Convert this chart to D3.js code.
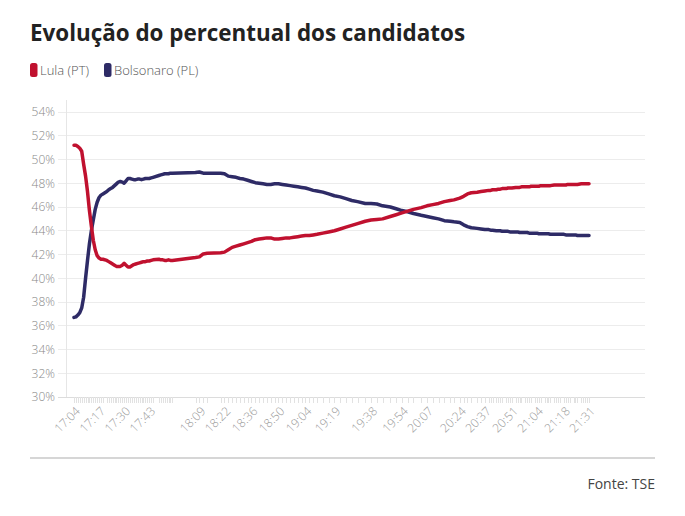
<!DOCTYPE html>
<html>
<head>
<meta charset="utf-8">
<script src="https://cdn.jsdelivr.net/npm/d3@7"></script>
<style>
  html, body { margin: 0; padding: 0; background: #fff; }
  svg { display: block; font-family: "Open Sans", "Noto Sans", sans-serif; }
</style>
</head>
<body>
<svg id="chart" width="685" height="516"></svg>
<script>
// ---- data ----
const times = [
  "17:04","17:05","17:06","17:07","17:08","17:09","17:10","17:11","17:12","17:13","17:14","17:15","17:16","17:17","17:18","17:19",
  "17:21","17:22","17:23","17:24","17:25","17:26","17:27","17:28","17:29","17:30","17:31","17:32","17:33","17:34","17:35","17:36","17:37","17:38","17:39","17:40","17:41","17:42","17:43","17:44","17:45",
  "17:48","17:49","17:50","17:51","17:52","17:53","17:54","17:55",
  "18:07","18:09","18:11","18:13",
  "18:20","18:22","18:24","18:26","18:28","18:30","18:32","18:34","18:36","18:38","18:40","18:42","18:44","18:46","18:48","18:50","18:52","18:54","18:56","18:58","19:00","19:02","19:04","19:06","19:08","19:10",
  "19:13","19:16","19:19","19:22","19:25","19:28","19:31","19:35","19:38","19:41","19:44","19:48","19:51","19:54","19:57","20:00","20:04","20:07","20:10","20:13",
  "20:16","20:19","20:21","20:24","20:26","20:28","20:30","20:33","20:35","20:37",
  "20:39","20:40","20:41","20:43","20:44","20:45","20:46","20:48","20:49","20:50","20:51","20:53","20:54","20:55","20:56","20:58","20:59","21:00","21:01","21:03","21:04","21:05","21:06","21:08","21:09","21:10","21:11","21:13","21:14","21:15","21:16","21:18","21:19","21:20","21:21","21:23","21:24","21:25","21:27","21:28","21:29","21:30","21:31"
];
const lula = [
  51.2,51.2,51.1,50.95,50.7,49.6,48.6,47.3,45.7,44.4,43.2,42.4,41.9,41.7,41.6,41.6,
  41.5,41.4,41.3,41.2,41.1,41.0,41.0,41.0,41.1,41.25,41.1,40.95,40.95,41.05,41.15,41.2,41.25,41.3,41.35,41.4,41.4,41.45,41.45,41.5,41.55,
  41.6,41.55,41.55,41.5,41.5,41.55,41.5,41.5,
  41.75,41.8,42.05,42.1,
  42.15,42.2,42.4,42.6,42.7,42.8,42.9,43.0,43.1,43.25,43.3,43.35,43.4,43.4,43.3,43.3,43.35,43.4,43.4,43.45,43.5,43.55,43.6,43.6,43.65,43.7,
  43.8,43.9,44.0,44.15,44.3,44.45,44.6,44.8,44.9,44.95,45.0,45.2,45.35,45.5,45.65,45.8,45.95,46.1,46.2,46.3,
  46.45,46.55,46.6,46.75,46.9,47.1,47.2,47.25,47.3,47.35,
  47.4,47.4,47.45,47.45,47.5,47.5,47.55,47.55,47.6,47.6,47.6,47.65,47.65,47.65,47.7,47.7,47.7,47.7,47.75,47.75,47.75,47.75,47.8,47.8,47.8,47.8,47.8,47.85,47.85,47.85,47.85,47.85,47.85,47.9,47.9,47.9,47.9,47.9,47.95,47.95,47.95,47.95,47.95
];
const bolsonaro = [
  36.7,36.75,36.9,37.1,37.5,38.4,40.0,41.5,42.9,44.0,44.9,45.8,46.4,46.8,47.0,47.1,
  47.3,47.45,47.55,47.65,47.8,47.95,48.1,48.15,48.1,48.0,48.2,48.4,48.4,48.35,48.3,48.3,48.35,48.35,48.3,48.35,48.4,48.4,48.4,48.45,48.5,
  48.65,48.7,48.75,48.8,48.8,48.8,48.85,48.85,
  48.9,48.95,48.85,48.85,
  48.85,48.8,48.6,48.55,48.5,48.4,48.35,48.25,48.15,48.05,48.0,47.95,47.9,47.9,47.95,47.95,47.9,47.85,47.8,47.75,47.7,47.65,47.6,47.5,47.4,47.35,
  47.25,47.1,46.95,46.85,46.7,46.55,46.45,46.3,46.3,46.25,46.1,46.0,45.85,45.7,45.6,45.45,45.3,45.2,45.1,45.0,
  44.85,44.8,44.75,44.7,44.5,44.35,44.25,44.2,44.15,44.1,
  44.1,44.05,44.05,44.0,44.0,44.0,43.95,43.95,43.95,43.9,43.9,43.9,43.9,43.85,43.85,43.85,43.85,43.8,43.8,43.8,43.8,43.75,43.75,43.75,43.75,43.75,43.7,43.7,43.7,43.7,43.7,43.7,43.65,43.65,43.65,43.65,43.65,43.6,43.6,43.6,43.6,43.6,43.6
];
const labelTimes = ["17:04","17:17","17:30","17:43","18:09","18:22","18:36","18:50","19:04","19:19","19:38","19:54","20:07","20:24","20:37","20:51","21:04","21:18","21:31"];
const yTicks = [30,32,34,36,38,40,42,44,46,48,50,52,54];
const seriesNames = ["Lula (PT)", "Bolsonaro (PL)"];
const seriesColors = ["#c0112f", "#2e2b66"];

// ---- build ----
const parse = d3.timeParse("%H:%M");
const svg = d3.select("#chart");

const x = d3.scaleTime()
  .domain([parse(times[0]), parse(times[times.length - 1])])
  .range([74, 589]);
const y = d3.scaleLinear().domain([30, 54]).range([397, 112]);

// title
svg.append("text")
  .attr("x", 30).attr("y", 41)
  .attr("font-size", 22.4).attr("font-weight", 700).attr("fill", "#222")
  .text("Evolução do percentual dos candidatos");

// legend
const legendX = [30, 104];
seriesNames.forEach((name, i) => {
  svg.append("rect")
    .attr("x", legendX[i]).attr("y", 63).attr("width", 7.5).attr("height", 14)
    .attr("rx", 2.5).attr("fill", seriesColors[i]);
  svg.append("text")
    .attr("x", legendX[i] + 10).attr("y", 75)
    .attr("font-size", 13).attr("font-weight", 300).attr("fill", "#555")
    .text(name);
});

// gridlines + y axis
const grid = svg.append("g");
grid.selectAll("line").data(yTicks).join("line")
  .attr("x1", 58).attr("x2", 645)
  .attr("y1", d => y(d)).attr("y2", d => y(d))
  .attr("stroke", d => d === 30 ? "#dcdcdc" : "#ececec").attr("stroke-width", 1)
  .attr("shape-rendering", "crispEdges");
svg.append("line")
  .attr("x1", 66).attr("x2", 66).attr("y1", 100).attr("y2", y(30))
  .attr("stroke", "#e6e6e6").attr("shape-rendering", "crispEdges");

const yAxis = d3.axisLeft(y).tickValues(yTicks).tickSize(0).tickPadding(0)
  .tickFormat(d => d + "%");
const gy = svg.append("g").attr("transform", "translate(55,0)").call(yAxis);
gy.select(".domain").remove();
gy.selectAll("text")
  .attr("font-family", "'Open Sans', sans-serif")
  .attr("font-size", 12).attr("font-weight", 300).attr("fill", "#888");

// x axis: tick at every data point, labels on selected points
const xAxis = d3.axisBottom(x).tickValues(times.map(parse)).tickSize(6).tickFormat("");
const gx = svg.append("g").attr("transform", `translate(0,${y(30)})`).call(xAxis);
gx.select(".domain").remove();
gx.selectAll(".tick line").attr("stroke", "#e2e2e2").attr("shape-rendering", "crispEdges");

svg.append("g").selectAll("text").data(labelTimes).join("text")
  .attr("transform", d => `translate(${x(parse(d)) + 4},${y(30) + 12}) rotate(-45)`)
  .attr("text-anchor", "end").attr("dy", "0.35em")
  .attr("font-size", 12).attr("font-weight", 300).attr("fill", "#999")
  .text(d => d);

// lines
const rows = times.map((t, i) => ({ t: parse(t), v: [lula[i], bolsonaro[i]] }));
const line = idx => d3.line().x(d => x(d.t)).y(d => y(d.v[idx])).curve(d3.curveLinear);
[1, 0].forEach(idx => {
  svg.append("path")
    .datum(rows)
    .attr("d", line(idx))
    .attr("fill", "none")
    .attr("stroke", seriesColors[idx])
    .attr("stroke-width", 3.5)
    .attr("stroke-linejoin", "round")
    .attr("stroke-linecap", "round");
});

// footer
svg.append("line")
  .attr("x1", 30).attr("x2", 655).attr("y1", 458).attr("y2", 458)
  .attr("stroke", "#d6d6d6").attr("stroke-width", 2);
svg.append("text")
  .attr("x", 655).attr("y", 489).attr("text-anchor", "end")
  .attr("font-size", 14).attr("fill", "#444")
  .text("Fonte: TSE");
</script>
</body>
</html>
